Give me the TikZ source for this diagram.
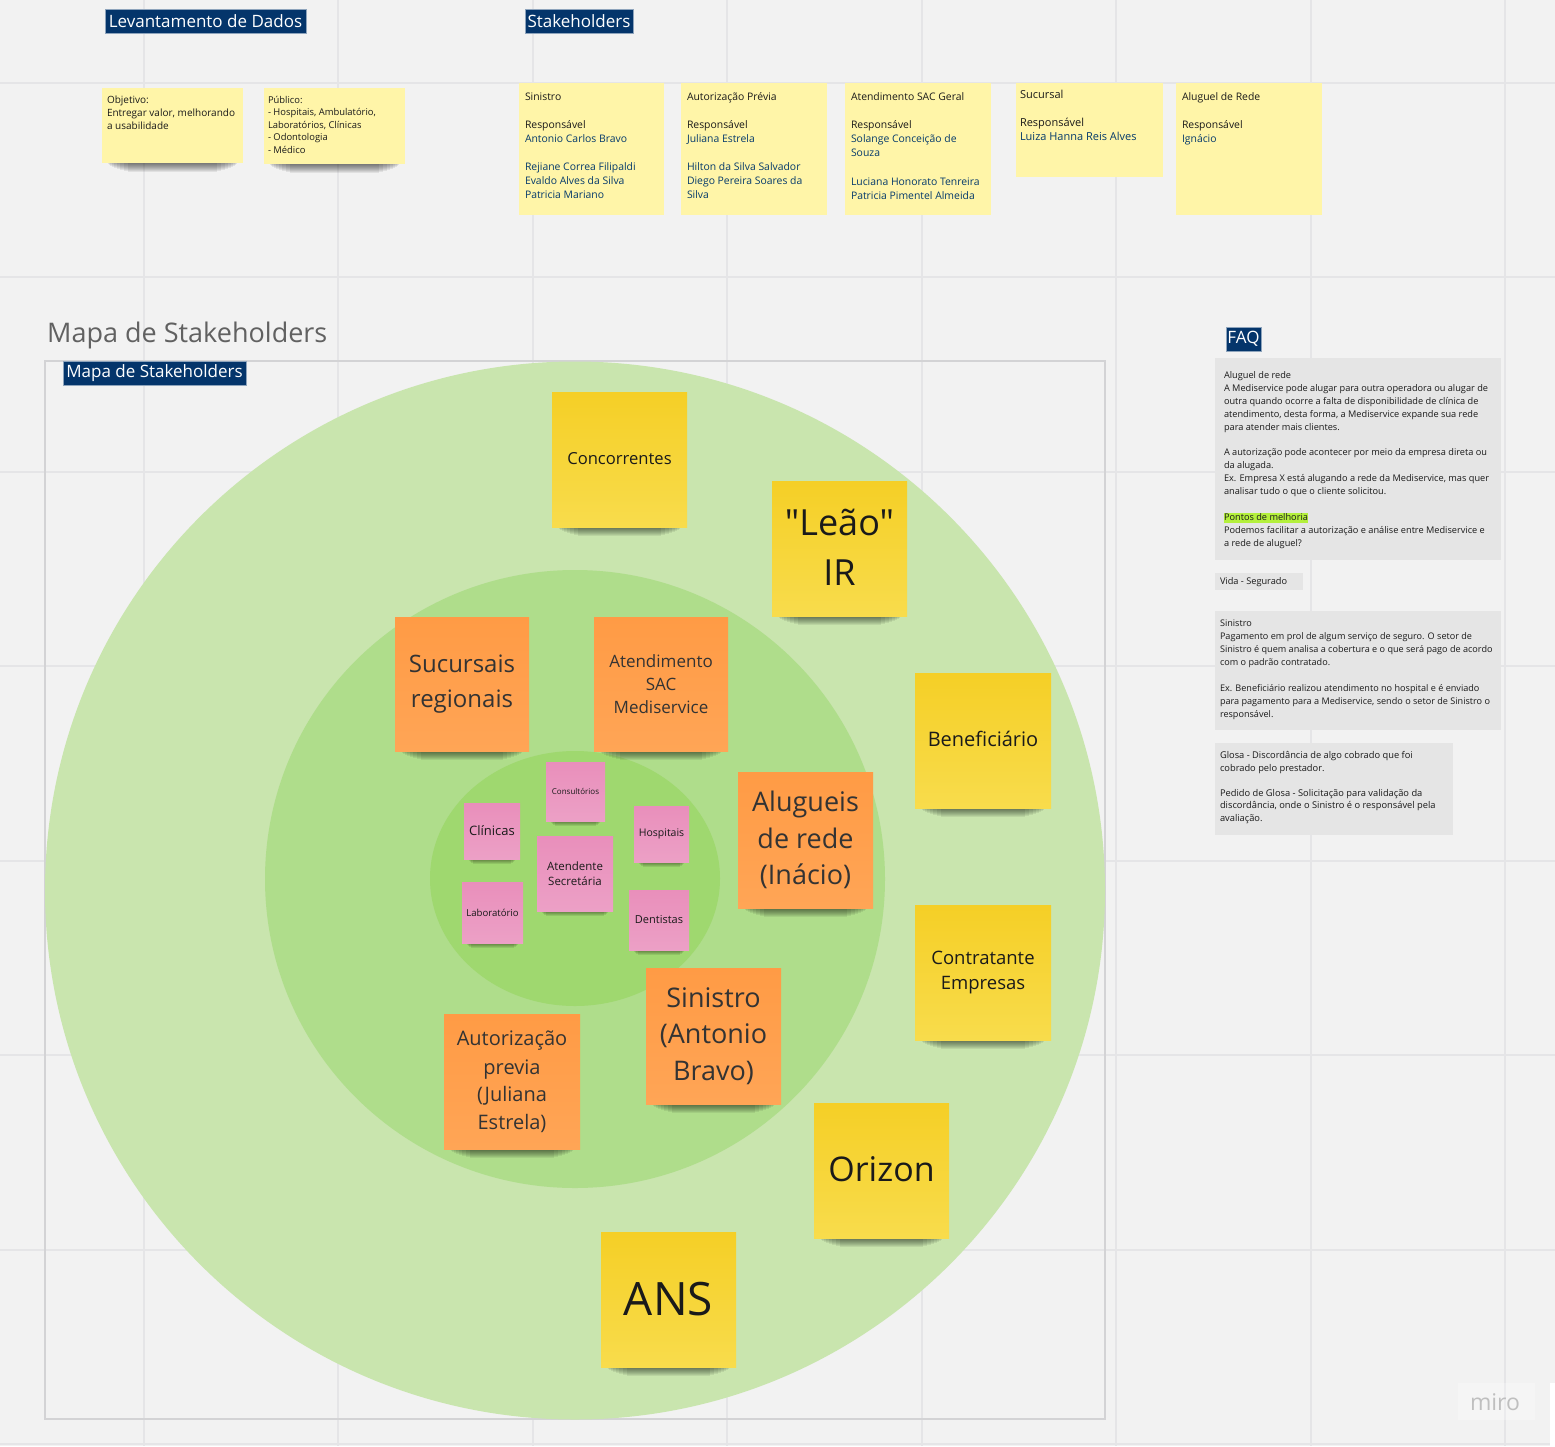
\documentclass[tikz,border=0pt]{standalone}
\usepackage{fontspec}
\setmainfont{Open Sans}[Ligatures=TeXOff]
\definecolor{boardbg}{HTML}{F2F2F2}
\definecolor{gridline}{HTML}{E5E5E7}
\definecolor{navy}{HTML}{04356B}
\definecolor{nameblue}{HTML}{053A6B}
\definecolor{ringA}{HTML}{C9E5AE}
\definecolor{ringB}{HTML}{AFDD8B}
\definecolor{ringC}{HTML}{9FD86F}
\definecolor{faqgrey}{HTML}{E5E5E5}
\definecolor{hilite}{HTML}{B4F03C}
\definecolor{inktext}{HTML}{1A1A1A}
\definecolor{goldtop}{HTML}{F5CF26}
\definecolor{goldbot}{HTML}{F8DC4C}
\definecolor{orangetop}{HTML}{FF9B45}
\definecolor{orangebot}{HTML}{FFA556}
\definecolor{pinktop}{HTML}{E98FBB}
\definecolor{pinkbot}{HTML}{ECA0C6}
\definecolor{palefill}{HTML}{FFF5A8}
\tikzset{
  x=1pt,y=-1pt,
  notebase/.style={rectangle,inner sep=0pt,outer sep=0pt,align=center,text=inktext},
  goldnote/.style={notebase,top color=goldtop,bottom color=goldbot},
  orangenote/.style={notebase,top color=orangetop,bottom color=orangebot,text=black!80},
  pinknote/.style={notebase,top color=pinktop,bottom color=pinkbot},
  palenote/.style={notebase,fill=palefill},
  greybox/.style={rectangle,inner sep=0pt,outer sep=0pt,fill=faqgrey},
  bodytext/.style={anchor=north west,inner sep=0pt,outer sep=0pt,align=left,text=inktext},
  titlebox/.style={rectangle,inner sep=0pt,outer sep=0pt,fill=navy,draw=navy!45,line width=.7pt,text=white,font=\fontsize{17}{20}\selectfont},
  gridstroke/.style={draw=gridline,line width=1.4pt}
}
% name, x0,y0,x1,y1, style, fontsize, text
\newcommand{\stickynote}[8]{%
  \node[#6,minimum width={(#4-#2)*1pt},minimum height={(#5-#3)*1pt},
    font=\fontsize{#7}{\dimexpr #7pt*136/100\relax}\selectfont] (#1) at ({(#2+#4)/2},{(#3+#5)/2}) {#8};}
% x0,x1,y : soft shadow beneath a note
\newcommand{\noteshadow}[3]{%
  \foreach \sh/\ins in {1/6,2/7,3/8,4/10,5/12,6/15,7/18,8/22,9/26}{
    \fill[black,opacity=.07] ({#1+\ins},#3) rectangle ({#2-\ins},{#3+\sh});}}
\newcommand{\smallshadow}[3]{%
  \foreach \sh/\ins in {1/4,2/5,3/6,4/7,5/9}{
    \fill[black,opacity=.09] ({#1+\ins},#3) rectangle ({#2-\ins},{#3+\sh});}}
\newcommand{\boxedtitle}[6]{%
  \node[titlebox,minimum width={(#4-#2)*1pt},minimum height={(#5-#3)*1pt}] (#1) at ({(#2+#4)/2},{(#3+#5)/2}) {#6};}
\newcommand{\nm}[1]{\textcolor{nameblue}{#1}}
\begin{document}
\begin{tikzpicture}
\useasboundingbox (0,0) rectangle (1555,1446);
\fill[boardbg] (0,0) rectangle (1555,1446);
% grid
\foreach \gx in {144,338,533,727,922,1116,1311,1505}{\draw[gridstroke] (\gx,0) -- (\gx,1446);}
\foreach \gy in {83,277,472,666,861,1055,1250,1444}{\draw[gridstroke] (0,\gy) -- (1555,\gy);}
% map frame and rings
\draw[draw=gridline!92!black,line width=1.4pt] (45,361) rectangle (1105,1419);
\fill[ringA] (575,890.5) ellipse [x radius=530,y radius=529];
\fill[ringB] (575,879) ellipse [x radius=310,y radius=309];
\fill[ringC] (575,878.5) ellipse [x radius=145,y radius=127.5];
% titles
\boxedtitle{tLev}{105}{9}{306}{33}{Levantamento de Dados}
\boxedtitle{tSta}{525}{9}{633}{33}{Stakeholders}
\boxedtitle{tMap}{63}{361}{246}{385}{Mapa de Stakeholders}
\boxedtitle{tFaq}{1226}{327}{1261}{351}{FAQ}
\node[anchor=west,inner sep=0pt,text=black!62,font=\fontsize{27}{31}\selectfont] (heading) at (47,335) {Mapa de Stakeholders};
% pale notes, top row
\noteshadow{102}{243}{163}
\noteshadow{264}{405}{164}
\stickynote{nObj}{102}{88}{243}{163}{palenote}{9}{}
\stickynote{nPub}{264}{88}{405}{164}{palenote}{9}{}
\stickynote{nSin}{519}{83}{664}{215}{palenote}{9}{}
\stickynote{nAut}{681}{83}{827}{215}{palenote}{9}{}
\stickynote{nAte}{845}{83}{991}{215}{palenote}{9}{}
\stickynote{nSuc}{1016}{83}{1163}{177}{palenote}{9}{}
\stickynote{nAlu}{1176}{83}{1322}{215}{palenote}{9}{}
\node[bodytext,font=\fontsize{10}{13}\selectfont] (xObj) at (107,95.5) {Objetivo:\\Entregar valor, melhorando\\a usabilidade};
\node[bodytext,font=\fontsize{9.4}{12.5}\selectfont] (xPub) at (268,96) {Público:\\- Hospitais, Ambulatório,\\Laboratórios, Clínicas\\- Odontologia\\- Médico};
\node[bodytext,font=\fontsize{10.4}{14}\selectfont] (xSin) at (525,92.5) {Sinistro\\[14.5pt]Responsável\\\nm{Antonio Carlos Bravo}\\[13.5pt]\nm{Rejiane Correa Filipaldi}\\\nm{Evaldo Alves da Silva}\\\nm{Patricia Mariano}};
\node[bodytext,font=\fontsize{10.4}{14}\selectfont] (xAut) at (687,92.5) {Autorização Prévia\\[14.5pt]Responsável\\\nm{Juliana Estrela}\\[13.5pt]\nm{Hilton da Silva Salvador}\\\nm{Diego Pereira Soares da}\\\nm{Silva}};
\node[bodytext,font=\fontsize{10.4}{14}\selectfont] (xAte) at (851,92.5) {Atendimento SAC Geral\\[14.5pt]Responsável\\\nm{Solange Conceição de}\\\nm{Souza}\\[14.5pt]\nm{Luciana Honorato Tenreira}\\\nm{Patricia Pimentel Almeida}};
\node[bodytext,font=\fontsize{11}{14}\selectfont] (xSuc) at (1020,90) {Sucursal\\[14.5pt]Responsável\\\nm{Luiza Hanna Reis Alves}};
\node[bodytext,font=\fontsize{10.4}{14}\selectfont] (xAlu) at (1182,92.5) {Aluguel de Rede\\[14.5pt]Responsável\\\nm{Ignácio}};
% FAQ
\node[greybox,minimum width=286pt,minimum height=202pt] (bFaq) at (1358,459) {};
\node[greybox,minimum width=88pt,minimum height=17pt] (bVid) at (1259,581.5) {};
\node[greybox,minimum width=286pt,minimum height=119pt] (bSin) at (1358,670.5) {};
\node[greybox,minimum width=238pt,minimum height=92pt] (bGlo) at (1334,789) {};
\node[bodytext,font=\fontsize{9.2}{12.9}\selectfont] (xFaq) at (1224,371.5) {Aluguel de rede\\A Mediservice pode alugar para outra operadora ou alugar de\\outra quando ocorre a falta de disponibilidade de clínica de\\atendimento, desta forma, a Mediservice expande sua rede\\para atender mais clientes.\\[12.9pt]A autorização pode acontecer por meio da empresa direta ou\\da alugada.\\Ex. Empresa X está alugando a rede da Mediservice, mas quer\\analisar tudo o que o cliente solicitou.\\[12.9pt]\setlength{\fboxsep}{0pt}\colorbox{hilite}{\rule[-2.5pt]{0pt}{9.5pt}Pontos de melhoria}\\Podemos facilitar a autorização e análise entre Mediservice e\\a rede de aluguel?};
\node[bodytext,font=\fontsize{9.2}{12.7}\selectfont] (xVid) at (1220,578) {Vida - Segurado};
\node[bodytext,font=\fontsize{9.1}{13}\selectfont] (xSi2) at (1220,619.5) {Sinistro\\Pagamento em prol de algum serviço de seguro. O setor de\\Sinistro é quem analisa a cobertura e o que será pago de acordo\\com o padrão contratado.\\[13pt]Ex. Beneficiário realizou atendimento no hospital e é enviado\\para pagamento para a Mediservice, sendo o setor de Sinistro o\\responsável.};
\node[bodytext,font=\fontsize{9.3}{12.5}\selectfont] (xGlo) at (1220,751.5) {Glosa - Discordância de algo cobrado que foi\\cobrado pelo prestador.\\[12.5pt]Pedido de Glosa - Solicitação para validação da\\discordância, onde o Sinistro é o responsável pela\\avaliação.};
% gold notes
\noteshadow{552}{687}{527}
\noteshadow{772}{907}{616}
\noteshadow{915}{1051}{808}
\noteshadow{915}{1051}{1040}
\noteshadow{814}{949}{1238}
\noteshadow{601}{736}{1367}
\stickynote{gCon}{552}{392}{687}{527}{goldnote}{16.6}{\raisebox{2pt}{Concorrentes}}
\stickynote{gLeo}{772}{481}{907}{616}{goldnote}{36}{\raisebox{3pt}{"Leão"}\\\raisebox{2pt}{IR}}
\stickynote{gBen}{915}{673}{1051}{808}{goldnote}{20}{\raisebox{3pt}{Beneficiário}}
\stickynote{gCnt}{915}{905}{1051}{1040}{goldnote}{18.5}{Contratante\\Empresas}
\stickynote{gOri}{814}{1103}{949}{1238}{goldnote}{34}{\raisebox{2pt}{Orizon}}
\stickynote{gAns}{601}{1232}{736}{1367}{goldnote}{46}{ANS}
% orange notes
\noteshadow{395}{529}{751}
\noteshadow{594}{728}{751}
\noteshadow{738}{873}{908}
\noteshadow{646}{781}{1104}
\noteshadow{444}{580}{1149}
\stickynote{oSuc}{395}{617}{529}{751}{orangenote}{24}{Sucursais\\[2pt]regionais}
\stickynote{oAte}{594}{617}{728}{751}{orangenote}{17}{Atendimento\\SAC\\Mediservice}
\stickynote{oAlu}{738}{772}{873}{908}{orangenote}{27}{Alugueis\\de rede\\(Inácio)}
\stickynote{oSin}{646}{968}{781}{1104}{orangenote}{27}{Sinistro\\(Antonio\\Bravo)}
\stickynote{oAut}{444}{1014}{580}{1149}{orangenote}{20}{\raisebox{2pt}{Autorização}\\previa\\(Juliana\\Estrela)}
% pink notes
\smallshadow{546}{605}{821}
\smallshadow{464}{520}{859}
\smallshadow{634}{689}{862}
\smallshadow{537}{613}{911}
\smallshadow{462}{523}{943}
\smallshadow{629}{689}{950}
\stickynote{pCon}{546}{762}{605}{821}{pinknote}{8}{Consultórios}
\stickynote{pCli}{464}{803}{520}{859}{pinknote}{13}{Clínicas}
\stickynote{pHos}{634}{806}{689}{862}{pinknote}{10.5}{Hospitais}
\stickynote{pAte}{537}{836}{613}{911}{pinknote}{11.5}{Atendente\\Secretária}
\stickynote{pLab}{462}{882}{523}{943}{pinknote}{9.6}{Laboratório}
\stickynote{pDen}{629}{890}{689}{950}{pinknote}{11}{Dentistas}
% watermark
\fill[white,opacity=.25] (1458,1383) rectangle (1535,1420);
\fill[white] (1550,1383) rectangle (1555,1446);
\node[inner sep=0pt,text=black!25,font=\fontsize{23}{26}\selectfont] (miro) at (1495,1402) {miro};
\end{tikzpicture}
\end{document}
